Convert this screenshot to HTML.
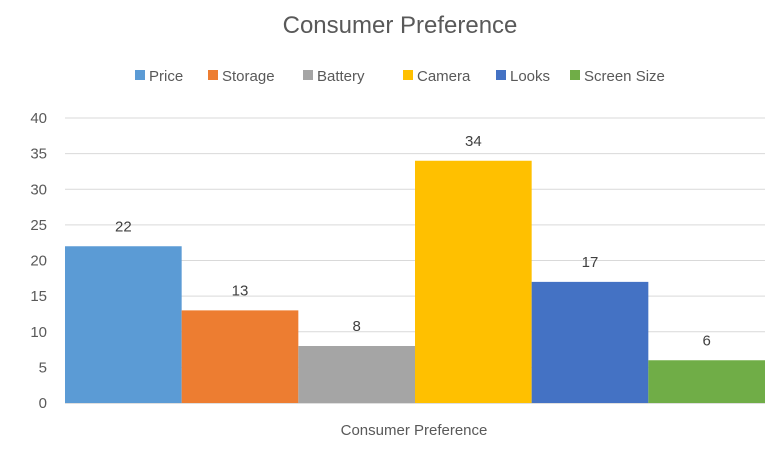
<!DOCTYPE html>
<html><head><meta charset="utf-8"><style>
body{margin:0;background:#fff;}
svg{display:block;font-family:"Liberation Sans",sans-serif;}
</style></head><body>
<svg id="chart" width="777" height="454">
<text x="400" y="33" text-anchor="middle" font-size="24" fill="#595959">Consumer Preference</text>
<g id="legend"></g>
<g id="grid"></g>
<g id="bars"></g>
<text x="414" y="435" text-anchor="middle" font-size="15" fill="#595959">Consumer Preference</text>
</svg>
<script>
const categories=["Price","Storage","Battery","Camera","Looks","Screen Size"];
const values=[22,13,8,34,17,6];
const colors=["#5B9BD5","#ED7D31","#A5A5A5","#FFC000","#4472C4","#70AD47"];
const ticks=[0,5,10,15,20,25,30,35,40];
const ns="http://www.w3.org/2000/svg";
const x0=65,x1=765,yBase=403,yTop=118,maxV=40;
const y=v=>yBase-(v/maxV)*(yBase-yTop);
const bw=(x1-x0)/categories.length;
function mk(t,a,p){const e=document.createElementNS(ns,t);for(const k in a)e.setAttribute(k,a[k]);p.appendChild(e);return e;}
const grid=document.getElementById('grid');
ticks.forEach(t=>{
 const l=mk('line',{x1:x0,x2:x1,y1:y(t),y2:y(t),stroke:t===0?'#bfbfbf':'#d9d9d9','stroke-width':1},grid);
 
 
 const tx=mk('text',{x:47,y:y(t)+5,'text-anchor':'end','font-size':15,fill:'#595959'},grid);
 tx.textContent=t;
 
 
});
const bars=document.getElementById('bars');
values.forEach((v,i)=>{
 const r=mk('rect',{x:x0+i*bw,y:y(v),width:bw,height:yBase-y(v),fill:colors[i]},bars);
 
 
 const t=mk('text',{x:x0+i*bw+bw/2,y:y(v)-15,'text-anchor':'middle','font-size':15,fill:'#404040'},bars);
 t.textContent=v;
 
 
});
const legend=document.getElementById('legend');
const lx=[135,208,303,403,496,570];
categories.forEach((c,i)=>{
 const g=mk('g',{},legend);
 
 
 mk('rect',{x:lx[i],y:70,width:10,height:10,fill:colors[i]},g);
 const t=mk('text',{x:lx[i]+14,y:81,'font-size':15,fill:'#595959'},g);
 t.textContent=c;
});
</script>
</body></html>
